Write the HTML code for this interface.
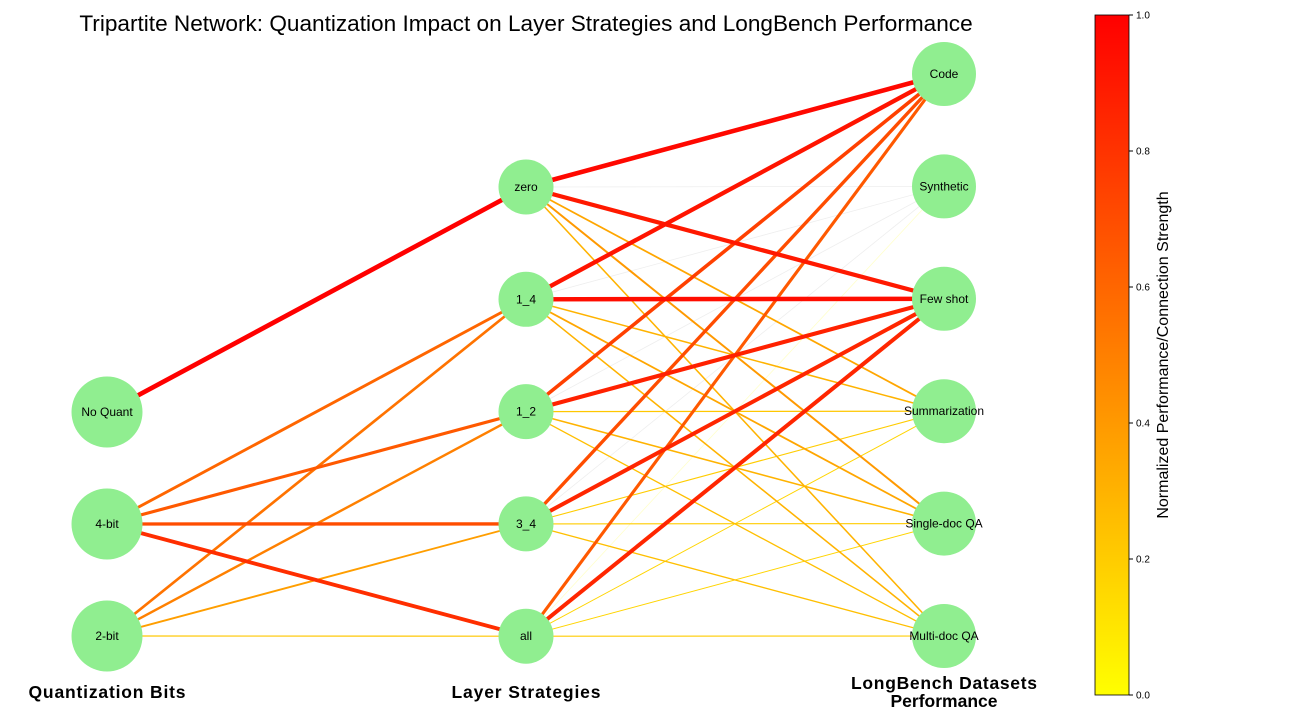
<!DOCTYPE html>
<html><head><meta charset="utf-8"><style>
body{margin:0;background:#fff;font-family:"Liberation Sans",sans-serif}
svg text{font-family:"Liberation Sans",sans-serif}
</style></head><body>
<svg id="chart" width="1296" height="720">
<defs><linearGradient id="cb" x1="0" y1="1" x2="0" y2="0">
<stop offset="0" stop-color="#ffff00"/><stop offset="1" stop-color="#ff0000"/></linearGradient></defs>
<text x="526" y="31" font-size="22.6" text-anchor="middle">Tripartite Network: Quantization Impact on Layer Strategies and LongBench Performance</text>
<g id="edges"></g>
<g id="nodes"></g>
<text x="107" y="698" font-size="17.5" font-weight="bold" text-anchor="middle" textLength="157">Quantization Bits</text>
<text x="526" y="698" font-size="17.5" font-weight="bold" text-anchor="middle" textLength="149">Layer Strategies</text>
<text x="944" y="689" font-size="17.5" font-weight="bold" text-anchor="middle" textLength="186">LongBench Datasets</text>
<text x="944" y="707" font-size="17.5" font-weight="bold" text-anchor="middle">Performance</text>
<rect x="1095" y="15" width="34" height="680" fill="url(#cb)" stroke="#000" stroke-width="0.8"/>
<g id="cbticks"></g>
<text transform="translate(1168,355) rotate(-90)" font-size="16" text-anchor="middle">Normalized Performance/Connection Strength</text>
</svg>
<script>
const quantNodes=["No Quant","4-bit","2-bit"];
const layerNodes=["zero","1_4","1_2","3_4","all"];
const dataNodes=["Code","Synthetic","Few shot","Summarization","Single-doc QA","Multi-doc QA"];
const quantLayerEdges=[["No Quant","zero",1.0],["4-bit","1_4",0.6],["4-bit","1_2",0.65],["4-bit","3_4",0.7],["4-bit","all",0.82],["2-bit","1_4",0.55],["2-bit","1_2",0.5],["2-bit","3_4",0.38],["2-bit","all",0.22]];
const layerDataValues={
 "zero":[0.97,0.02,0.9,0.35,0.4,0.3],
 "1_4":[0.92,0.05,0.95,0.3,0.35,0.3],
 "1_2":[0.75,0.05,0.87,0.22,0.3,0.25],
 "3_4":[0.7,0.05,0.85,0.2,0.2,0.25],
 "all":[0.65,0.08,0.85,0.17,0.17,0.2]};
const cbTicks=[0,0.2,0.4,0.6,0.8,1.0];
const NS="http://www.w3.org/2000/svg";
const colX={q:107,l:526,d:944};
function qY(i){return 412+112*i}
function lY(i){return 187+112.3*i}
function dY(i){return 74+112.4*i}
function col(v){return "rgb(255,"+Math.round(255*(1-v))+",0)"}
function pos(name){
 let i=quantNodes.indexOf(name);if(i>=0)return[colX.q,qY(i)];
 i=layerNodes.indexOf(name);if(i>=0)return[colX.l,lY(i)];
 i=dataNodes.indexOf(name);return[colX.d,dY(i)];
}
const eg=document.getElementById("edges");
function edge(a,b,v){
 const p=pos(a),q=pos(b);const l=document.createElementNS(NS,"line");
 l.setAttribute("x1",p[0]);l.setAttribute("y1",p[1]);l.setAttribute("x2",q[0]);l.setAttribute("y2",q[1]);
 l.setAttribute("stroke",v<0.06?"#eeeeee":(v<0.1?"#ffffcc":col(v)));
 l.setAttribute("stroke-width",v<0.1?0.8:0.2+4.5*v);
 
 
 eg.appendChild(l);
}
const all=[];
quantLayerEdges.forEach(e=>all.push(e));
layerNodes.forEach(l=>layerDataValues[l].forEach((v,j)=>all.push([l,dataNodes[j],v])));
all.sort((a,b)=>a[2]-b[2]).forEach(e=>edge(e[0],e[1],e[2]));
const ng=document.getElementById("nodes");
function node(name,r){
 const p=pos(name);const c=document.createElementNS(NS,"circle");
 c.setAttribute("cx",p[0]);c.setAttribute("cy",p[1]);c.setAttribute("r",r);c.setAttribute("fill","#90ee90");
 
 
 ng.appendChild(c);
 const t=document.createElementNS(NS,"text");
 t.setAttribute("x",p[0]);t.setAttribute("y",p[1]+4);t.setAttribute("font-size","12");t.setAttribute("text-anchor","middle");
 t.textContent=name;
 
 
 ng.appendChild(t);
}
quantNodes.forEach(n=>node(n,35.5));
layerNodes.forEach(n=>node(n,27.5));
dataNodes.forEach(n=>node(n,32));
const tg=document.getElementById("cbticks");
cbTicks.forEach(v=>{
 const y=695-680*v;
 const l=document.createElementNS(NS,"line");
 l.setAttribute("x1",1129);l.setAttribute("x2",1133);l.setAttribute("y1",y);l.setAttribute("y2",y);l.setAttribute("stroke","#000");
 
 
 tg.appendChild(l);
 const t=document.createElementNS(NS,"text");
 t.setAttribute("x",1136);t.setAttribute("y",y+3.5);t.setAttribute("font-size","10");t.textContent=v.toFixed(1);
 
 
 tg.appendChild(t);
});
</script>
</body></html>
